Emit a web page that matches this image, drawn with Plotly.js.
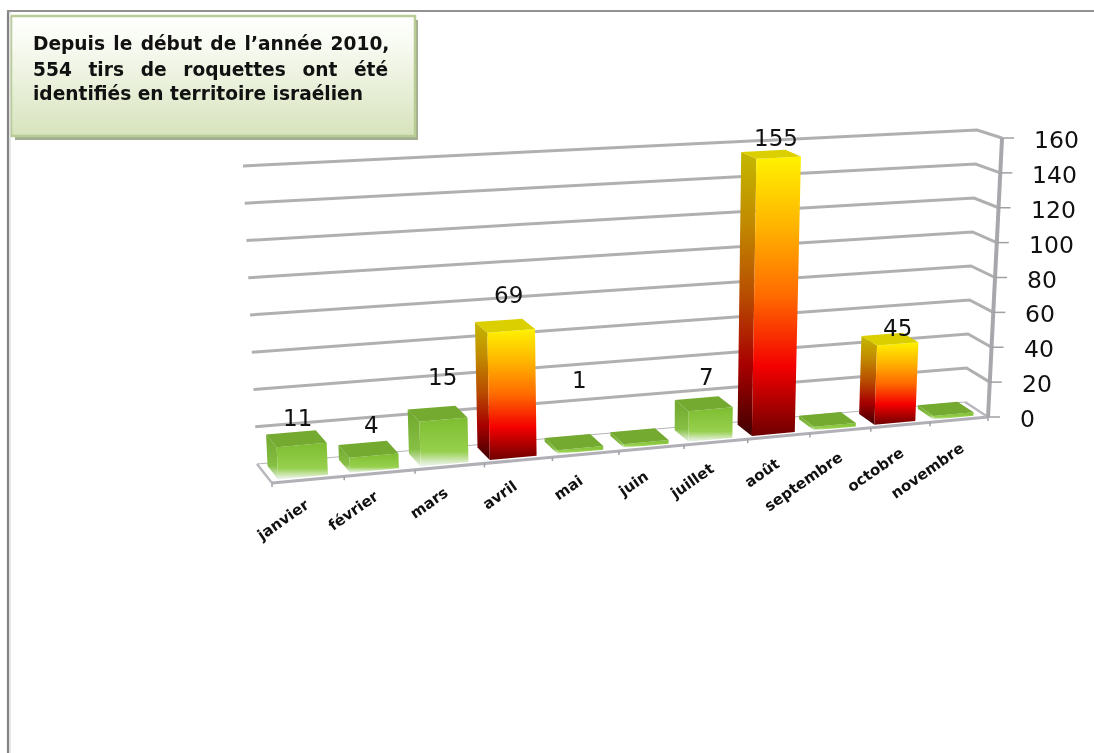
<!DOCTYPE html>
<html lang="fr">
<head>
<meta charset="utf-8">
<script src="https://cdn.plot.ly/plotly-3.0.1.min.js"></script>
<style>
html,body{margin:0;padding:0;background:#fff;overflow:hidden}
#chart{width:1094px;height:753px}
#chart .main-svg{filter:blur(.5px)}
</style>
</head>
<body>
<div id="chart"></div>
<script>
// ---- data ----
const categories = ["janvier","février","mars","avril","mai","juin","juillet","août","septembre","octobre","novembre"];
// bar heights as read against the gridlines of the picture
const barValues  = [17, 8, 24, 69, 2, 2, 17, 155, 2, 45, 2];
// printed data labels (several months carry no label in the picture)
const dataLabels = ["11","4","15","69","1","","7","155","","45",""];
const gridValues = [0,20,40,60,80,100,120,140,160];
const calloutLines = [
  "Depuis\u200a le\u200a début\u200a de\u200a l’année\u200a 2010,",
  "554\u00a0\u2009 tirs\u00a0\u2009 de\u00a0\u2009 roquettes\u00a0\u2009 ont\u00a0\u2009 été",
  "identifiés en territoire israélien"];

// ---- oblique view of the 3-D box: corners of the plot volume ----
const vMax = 160, uMax = categories.length;
const corners = {
  fl0:[272,483], fl1:[258,179], fr0:[988,417], fr1:[1002,138],
  bl0:[257,464], bl1:[243,166], br0:[965,402], br1:[977,130]
};
const warp = u => (72.97*u - 0.716*u*u)/716;
const lerp = (a,b,t) => a+(b-a)*t;
function project(u,d,v){
  const s = warp(u), t = v/vMax, out = [];
  for(let i=0;i<2;i++){
    const fl = lerp(corners.fl0[i],corners.fl1[i],t), fr = lerp(corners.fr0[i],corners.fr1[i],t);
    const bl = lerp(corners.bl0[i],corners.bl1[i],t), br = lerp(corners.br0[i],corners.br1[i],t);
    out.push(lerp(lerp(fl,fr,s),lerp(bl,br,s),d));
  }
  return out;
}
const traces = [];
function line(points,color,width){
  traces.push({type:"scatter",mode:"lines",x:points.map(p=>p&&p[0]),y:points.map(p=>p&&p[1]),
    line:{color:color,width:width,shape:"linear"},hoverinfo:"skip",showlegend:false,connectgaps:false});
}
// gradient stops are written top-to-bottom on screen; the y axis runs downwards
const flip = stops => stops.map(s=>[1-s[0],s[1]]).reverse();
function poly(points,stops,lineColor){
  const p = points.concat([points[0]]);
  const tr = {type:"scatter",mode:"lines",x:p.map(q=>q[0]),y:p.map(q=>q[1]),fill:"toself",
    line:{color:lineColor||"rgba(0,0,0,0)",width:lineColor?1:0},hoverinfo:"skip",showlegend:false};
  if(typeof stops==="string") tr.fillcolor = stops;
  else tr.fillgradient = {type:"vertical",colorscale:flip(stops)};
  traces.push(tr);
}

// ---- walls and floor ----
const gridColor = "#b0b0b2";
gridValues.forEach(v=>{
  if(v>0) line([project(0,1,v),project(uMax,1,v),project(uMax,0,v)],gridColor,3);
});
poly([project(0,0,0),project(uMax,0,0),project(uMax,1,0),project(0,1,0)],"#ffffff","#b4b4ba");
line([project(0,0,0),project(uMax,0,0)],"#b0b0b6",3);
line([project(0,0,0),project(0,1,0)],"#b8b8be",2.5);
line([project(uMax,0,0),project(uMax,1,0)],"#b8b8be",2.5);
// category ticks along the front floor edge
const catTicks = [];
for(let u=0;u<=uMax;u++){const p=project(u,0,0);catTicks.push(p,[p[0],p[1]+4],null);}
line(catTicks,"#a0a0a6",1.5);
// value axis and ticks
line([project(uMax,0,0),project(uMax,0,vMax)],"#a8a8ac",4);
const valTicks = [];
gridValues.forEach(v=>{const p=project(uMax,0,v);valTicks.push(p,[p[0]+12,p[1]],null);});
line(valTicks,"#a0a0a4",1.5);

// ---- bars ----
const hotFront = [[0,"#fff200"],[.25,"#ffb400"],[.5,"#ff6a00"],[.75,"#f40000"],[1,"#6e0000"]];
const hotSide  = [[0,"#c4b800"],[.25,"#c28a00"],[.5,"#b84e00"],[.75,"#a80000"],[1,"#400000"]];
const coolFront= [[0,"#7dbd30"],[.7,"#97d04e"],[.88,"#cfe7b5"],[1,"#eef5f2"]];
const coolSide = [[0,"#6fa82c"],[.7,"#86bf44"],[.88,"#c4e0a8"],[1,"#e8f0ea"]];
const halfW = .345, barShift = .46, d0 = .15, d1 = .85;
barValues.forEach((v,i)=>{
  const a = i+barShift-halfW, b = i+barShift+halfW, hot = v>=40;
  poly([project(a,d1,0),project(a,d0,0),project(a,d0,v),project(a,d1,v)],hot?hotSide:coolSide);
  poly([project(a,d0,0),project(b,d0,0),project(b,d0,v),project(a,d0,v)],hot?hotFront:coolFront);
  poly([project(a,d0,v),project(b,d0,v),project(b,d1,v),project(a,d1,v)],hot?"#dccf00":"#74aa30");
});

// ---- callout box ----
const boxX0 = 11, boxX1 = 415, boxY0 = 16, boxY1 = 136;
poly([[boxX0+4,boxY0+4],[boxX1+3,boxY0+4],[boxX1+3,boxY1+4],[boxX0+4,boxY1+4]],"#a3ad8f");
poly([[boxX0,boxY0],[boxX1,boxY0],[boxX1,boxY1],[boxX0,boxY1]],[[0,"#ffffff"],[.25,"#f7faf1"],[1,"#d7e3bc"]],"#b7cb92");
line([[boxX0,boxY0],[boxX1,boxY0],[boxX1,boxY1],[boxX0,boxY1],[boxX0,boxY0]],"#b9cc95",2.5);

// ---- text ----
const annotations = [];
const text = (x,y,t,size,opt)=>annotations.push(Object.assign({x:x,y:y,xref:"x",yref:"y",text:t,showarrow:false,
  font:{family:"'DejaVu Sans',Verdana,sans-serif",size:size,color:"#111"},xanchor:"center",yanchor:"middle"},opt||{}));
gridValues.forEach(v=>{const p=project(uMax,0,v);text(p[0]+30,p[1]+2,String(v),23.5,{xanchor:"left"});});
const labelSpots = [[297,418],[371,425],[442,377],[508,295],[579,380],null,[706,377],[776,138],null,[897,328],null];
dataLabels.forEach((t,i)=>{ if(t) text(labelSpots[i][0],labelSpots[i][1],t,23); });
const catSpots = [[283,520],[353,511],[429,503],[500,495],[568,488],[633,484],[692,481],[762,473],[803,482],[875,470],[927,471]];
categories.forEach((c,i)=>text(catSpots[i][0],catSpots[i][1],"<b>"+c+"</b>",15,{textangle:-35}));
const calloutY = [43,69,93];
calloutLines.forEach((t,i)=>text(31,calloutY[i],"<b>"+t+"</b>",18.6,{xanchor:"left"}));

const shapes = [
  {type:"line",xref:"x",yref:"y",x0:8,x1:8,y0:10,y1:753,line:{color:"#848484",width:2.2}},
  {type:"line",xref:"x",yref:"y",x0:10,x1:10,y0:12,y1:753,line:{color:"#dedede",width:1.5}},
  {type:"line",xref:"x",yref:"y",x0:7,x1:1094,y0:11,y1:11,line:{color:"#929292",width:2}}
];

Plotly.newPlot("chart",traces,{
  width:1094,height:753,margin:{l:0,r:0,t:0,b:0},
  paper_bgcolor:"#fff",plot_bgcolor:"#fff",showlegend:false,
  xaxis:{range:[0,1094],visible:false,fixedrange:true},
  yaxis:{range:[753,0],visible:false,fixedrange:true},
  annotations:annotations,shapes:shapes
},{displayModeBar:false,staticPlot:true});
</script>
</body>
</html>
